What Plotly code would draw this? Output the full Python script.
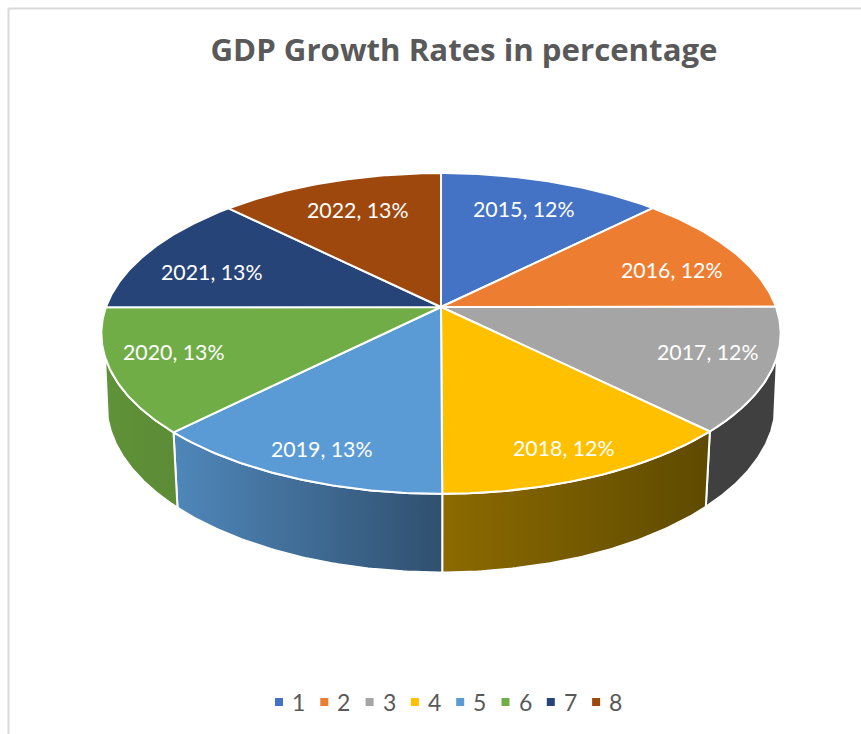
import numpy as np
import plotly.graph_objects as go

# Each slice's value is its year; the shares and percentage labels follow from them.
categories = ["1", "2", "3", "4", "5", "6", "7", "8"]
years = [2015, 2016, 2017, 2018, 2019, 2020, 2021, 2022]
top_colors = ["#4472C4", "#ED7D31", "#A5A5A5", "#FFC000", "#5B9BD5", "#70AD47", "#264478", "#9E480E"]
# Left and right shade of the rim below each slice; rear slices have no visible rim.
rim_colors = [None, None, ("#404040", "#404040"), ("#8C6A00", "#5E4A00"),
              ("#4F87BA", "#30506F"), ("#5F9239", "#5C8C36"), None, None]

WIDTH, HEIGHT = 861, 734
CX = 441
TOP = dict(cy=307, rx=335, ry=156, persp=0.165)
BOTTOM = dict(cy=376, rx=330, ry=164, persp=0.165)
TOP_LIMIT, BOTTOM_LIMIT = 107.7, 104.7  # angles where the rim meets the silhouette

LABEL_RADIUS = 0.75
LABEL_NUDGE = [(-4, -1), (9, 6), (23, -2), (13, 19), (-12, 20), (-24, -2), (-8, 8), (3, 0)]

KEY_LEFT, KEY_PITCH, KEY_Y, KEY_GAP = 279, 45.3, 702, 11


def project(theta_deg, disc, radius=1.0):
    """Map an angle (clockwise from 12 o'clock) on a disc to the tilted view."""
    t = np.radians(theta_deg)
    across = radius * np.sin(t)
    toward = -radius * np.cos(t)
    w = 1 - disc["persp"] * toward
    return CX + disc["rx"] * across / w, disc["cy"] + disc["ry"] * toward / w


def arc(a, b, disc):
    return project(np.linspace(a, b, 80), disc)


total = sum(years)
edges = np.concatenate([[0], np.cumsum(years) / total * 360])
fig = go.Figure()

# Rim of the disc, drawn first so the top face overlaps it
for i, shades in enumerate(rim_colors):
    if shades is None:
        continue
    a, b = edges[i], edges[i + 1]
    tx, ty = arc(max(a, TOP_LIMIT), min(b, 360 - TOP_LIMIT), TOP)
    bx, by = arc(max(a, BOTTOM_LIMIT), min(b, 360 - BOTTOM_LIMIT), BOTTOM)
    fig.add_trace(go.Scatter(
        x=np.concatenate([tx, bx[::-1], tx[:1]]),
        y=np.concatenate([ty, by[::-1], ty[:1]]),
        mode="lines", fill="toself",
        fillgradient=dict(type="horizontal",
                          colorscale=[[0, shades[0]], [1, shades[1]]]),
        line=dict(color="white", width=2),
        hoverinfo="skip", showlegend=False,
    ))

# Top face
for i, color in enumerate(top_colors):
    ax, ay = arc(edges[i], edges[i + 1], TOP)
    fig.add_trace(go.Scatter(
        x=np.concatenate([[CX], ax, [CX]]),
        y=np.concatenate([[TOP["cy"]], ay, [TOP["cy"]]]),
        mode="lines", fill="toself", fillcolor=color,
        line=dict(color="white", width=2),
        hoverinfo="skip", showlegend=False,
    ))

# Slice labels
for i, year in enumerate(years):
    share = year / total * 100
    lx, ly = project((edges[i] + edges[i + 1]) / 2, TOP, LABEL_RADIUS)
    fig.add_annotation(
        x=lx + LABEL_NUDGE[i][0], y=ly + LABEL_NUDGE[i][1],
        text=f"{year}, {round(share)}%", showarrow=False,
        font=dict(family="Lato", size=21.3, color="white"),
    )

# Key along the bottom: a square and a number for each category
for i, (name, color) in enumerate(zip(categories, top_colors)):
    key_x = KEY_LEFT + i * KEY_PITCH
    fig.add_trace(go.Scatter(
        x=[key_x], y=[KEY_Y], mode="markers", name=name,
        marker=dict(symbol="square", size=8, color=color),
        hoverinfo="name", showlegend=False,
    ))
    fig.add_annotation(
        x=key_x + KEY_GAP, y=KEY_Y, text=name, showarrow=False, xanchor="left",
        font=dict(family="Lato", size=23, color="#595959"),
    )

# Thin frame along the top and left
frame = dict(color="#D9D9D9", width=2)
fig.add_shape(type="line", x0=8.5, x1=WIDTH, y0=8.5, y1=8.5, line=frame)
fig.add_shape(type="line", x0=8.5, x1=8.5, y0=8.5, y1=HEIGHT, line=frame)

fig.update_layout(
    width=WIDTH, height=HEIGHT, autosize=False,
    margin=dict(l=0, r=0, t=0, b=0),
    paper_bgcolor="white", plot_bgcolor="white",
    title=dict(text="<b>GDP Growth Rates in percentage</b>",
               x=464 / WIDTH, y=1 - 50 / HEIGHT, xanchor="center", yanchor="middle",
               font=dict(family="Open Sans", size=31.2, color="#595959")),
    xaxis=dict(range=[0, WIDTH], visible=False, fixedrange=True),
    yaxis=dict(range=[HEIGHT, 0], visible=False, fixedrange=True),
    showlegend=False,
)

fig.write_html("out.html", config={"displayModeBar": False})
